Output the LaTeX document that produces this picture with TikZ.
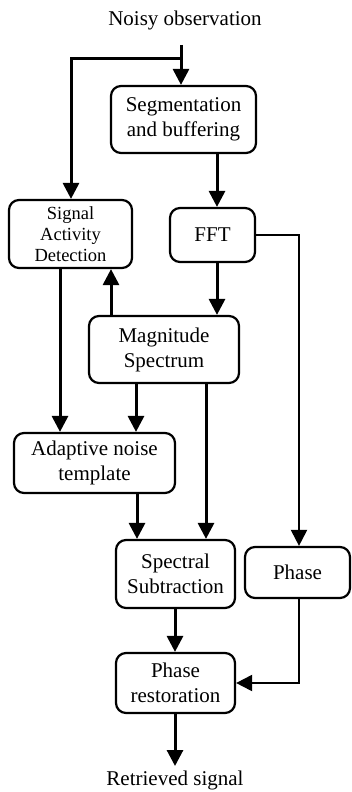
\documentclass[tikz,border=0pt]{standalone}
\usepackage{fontspec}
\setmainfont{Liberation Serif}
\usetikzlibrary{arrows.meta}
\begin{document}
\begin{tikzpicture}[x=1pt,y=-1pt,
  box/.style={draw,line width=2.2pt,rounded corners=10pt,align=center,inner sep=0pt,
    font=\fontsize{21}{25}\selectfont},
  smallbox/.style={box,font=\fontsize{18.5}{21}\selectfont},
  lbl/.style={inner sep=0pt,font=\fontsize{21}{25}\selectfont},
  arr/.style={line width=3pt,-{Triangle[length=16pt,width=16pt]}},
  thinarr/.style={line width=2pt,-{Triangle[length=16pt,width=16pt]}},
  thinline/.style={line width=2pt}]
\useasboundingbox (0,0) rectangle (351,792);
\node[lbl] (noisy) at (185,20) {Noisy observation};
\node[lbl] (retr) at (175,780) {Retrieved signal};
\node[box,minimum width=145pt,minimum height=67pt] (seg) at (183.5,119.5) {Segmentation\\and buffering};
\node[smallbox,minimum width=123pt,minimum height=68pt] (sad) at (70.5,234) {Signal\\Activity\\Detection};
\node[box,minimum width=85pt,minimum height=54pt] (fft) at (212.5,235) {FFT};
\node[box,minimum width=150pt,minimum height=67pt] (mag) at (164,349.5) {Magnitude\\Spectrum};
\node[box,minimum width=161pt,minimum height=60pt] (adapt) at (94.5,463) {Adaptive noise\\template};
\node[box,minimum width=119pt,minimum height=68pt] (spec) at (175.5,574) {Spectral\\Subtraction};
\node[box,minimum width=105pt,minimum height=51pt] (phase) at (297.5,572.5) {Phase};
\node[box,minimum width=119pt,minimum height=60pt] (pr) at (175.5,683) {Phase\\restoration};
\coordinate (in) at (181,45);
\coordinate (split) at (181,59);
\coordinate (fftc) at (299,235);
\coordinate (phc) at (299,683);
\coordinate (out) at (175,766);
% input
\draw[line width=3pt] (in) -- (split);
\draw[arr] (split) -- (split |- seg.north);
\draw[arr] (split) -- (71,59) -- (71,59 |- sad.north);
% seg -> fft -> mag
\draw[arr] (217,0 |- seg.south) -- (217,0 |- fft.north);
\draw[arr] (217,0 |- fft.south) -- (217,0 |- mag.north);
% fft -> phase
\draw[thinarr] (fft.east) -- (fftc) -- (phase.north -| fftc);
% mag -> sad
\draw[arr] (111,0 |- mag.north) -- (111,0 |- sad.south);
% sad -> adapt, mag -> adapt
\draw[arr] (60,0 |- sad.south) -- (60,0 |- adapt.north);
\draw[arr] (136,0 |- mag.south) -- (136,0 |- adapt.north);
% adapt -> spec, mag -> spec
\draw[arr] (137,0 |- adapt.south) -- (137,0 |- spec.north);
\draw[arr] (206,0 |- mag.south) -- (206,0 |- spec.north);
% spec -> pr
\draw[arr] (175,0 |- spec.south) -- (175,0 |- pr.north);
% phase -> pr
\draw[thinarr] (phase.south -| fftc) -- (phc) -- (pr.east);
% pr -> out
\draw[arr] (175,0 |- pr.south) -- (out);
\end{tikzpicture}
\end{document}
